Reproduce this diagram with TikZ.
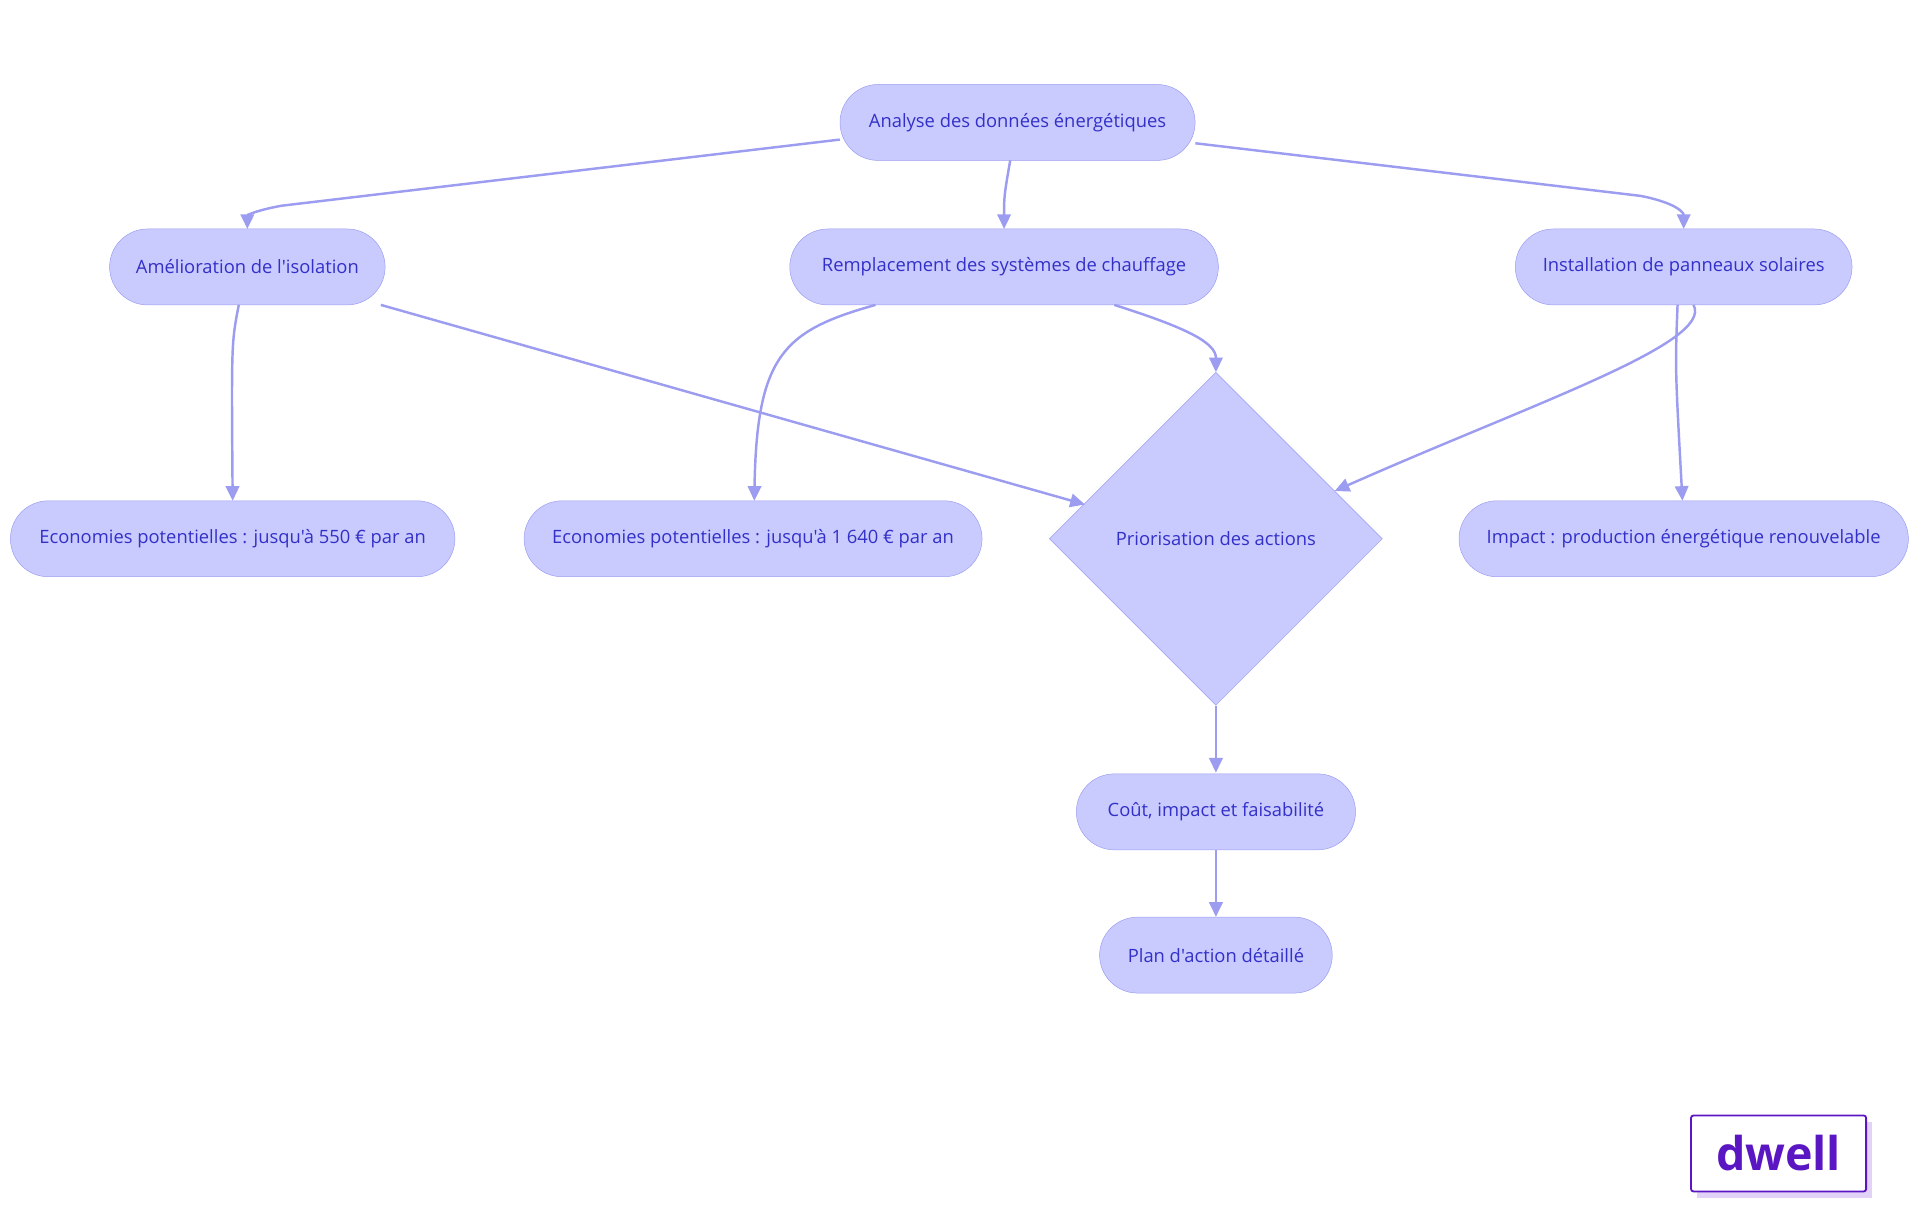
\documentclass[tikz,border=0pt]{standalone}
\usepackage{fontspec}
\setmainfont{Open Sans}[Ligatures=TeXOff]
\usetikzlibrary{shapes.geometric,arrows.meta}
\definecolor{nfill}{HTML}{C9CBFE}
\definecolor{nline}{HTML}{9C9CF0}
\definecolor{ntext}{HTML}{3330C8}
\definecolor{logo}{HTML}{5B16C4}
\definecolor{logosh}{HTML}{E3D2F7}
\begin{document}
\begin{tikzpicture}[x=1pt,y=-1pt,
 box/.style={draw=nline,fill=nfill,rounded corners=31pt,minimum height=62pt,text=ntext,font=\fontsize{15}{18}\selectfont,inner sep=0pt},
 dia/.style={draw=nline,fill=nfill,diamond,minimum width=272pt,minimum height=272pt,text=ntext,font=\fontsize{15}{18}\selectfont,inner sep=0pt},
 e/.style={draw=nline,line width=2pt,-{Triangle[length=12pt,width=11pt]}}]
\useasboundingbox (0,0) rectangle (1568,992);
\node[box,minimum width=290pt] (A) at (831,100) {Analyse des données énergétiques};
\node[box,minimum width=225pt] (B) at (202,218) {Amélioration de l'isolation};
\node[box,minimum width=350pt] (C) at (820,218) {Remplacement des systèmes de chauffage};
\node[box,minimum width=275pt] (D) at (1375,218) {Installation de panneaux solaires};
\node[box,minimum width=363pt] (E) at (190,440) {Economies potentielles : jusqu'à 550 € par an};
\node[box,minimum width=374pt] (F) at (615,440) {Economies potentielles : jusqu'à 1 640 € par an};
\node[dia] (G) at (993,440) {Priorisation des actions};
\node[box,minimum width=367pt] (H) at (1375,440) {Impact : production énergétique renouvelable};
\node[box,minimum width=228pt] (I) at (993,663) {Coût, impact et faisabilité};
\node[box,minimum width=190pt] (J) at (993,780) {Plan d'action détaillé};
\draw[e] (A.west|-0,114) -- (230,168) .. controls (208,172) and (202,176) .. (202,187);
\draw[e] (825,131) .. controls (820,160) .. (820,187);
\draw[e] (A.east|-0,117) -- (1340,160) .. controls (1370,166) and (1375,174) .. (1375,187);
\draw[e] (195,249) .. controls (189,280) .. (190,409);
\draw[e] (311,249) -- (886,412);
\draw[e] (715,249) .. controls (640,270) and (618,290) .. (616,409);
\draw[e] (910,249) .. controls (970,268) and (993,280) .. (993,304);
\draw[e] (1383,249) .. controls (1400,280) and (1250,330) .. (1090,401);
\draw[e] (1370,249) .. controls (1368,300) .. (1374,409);
\draw[e] (G.south) -- (993,631);
\draw[e] (I.south) -- (J.north);
\fill[logosh] (1386,916) rectangle (1529,978);
\node[draw=logo,fill=white,line width=1.5pt,rounded corners=2pt,minimum width=143pt,minimum height=62pt,text=logo,font=\fontsize{38}{40}\selectfont\bfseries] (L) at (1452.5,942) {dwell};
\end{tikzpicture}
\end{document}
